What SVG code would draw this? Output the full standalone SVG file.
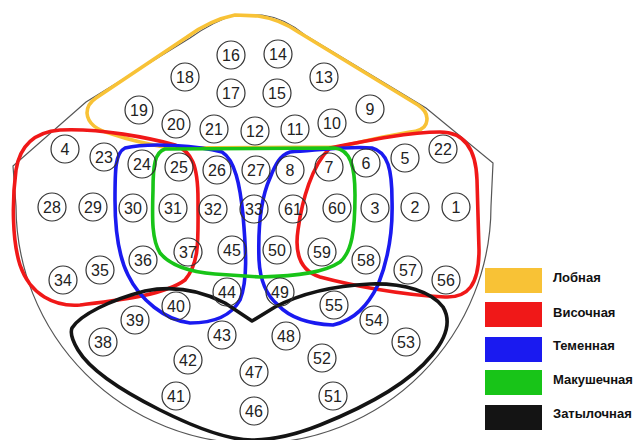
<svg xmlns="http://www.w3.org/2000/svg" width="636" height="440" viewBox="0 0 636 440">
  <style>
    .head { fill: none; stroke: #555; stroke-width: 1.2; }
    .zone { fill: none; stroke-width: 3.6; stroke-linejoin: round; }
    .frontal { stroke: #F8C236; }
    .temporal { stroke: #F01818; }
    .parietal { stroke: #1A1AF0; }
    .crown { stroke: #18C418; }
    .occipital { stroke: #141414; }
    .pt circle { fill: none; stroke: #333; stroke-width: 1.2; }
    .pt text { font-family: "Liberation Sans", Arial, sans-serif; font-size: 16px; fill: #222; text-anchor: middle; }
    .legend text { font-family: "Liberation Sans", Arial, sans-serif; font-size: 13px; font-weight: bold; fill: #111; }
  </style>

  <rect width="636" height="440" fill="#fff"/>

  <!-- head outline -->
  <path class="head" d="M 16,206 L 13,166 L 86,102 L 190,38 Q 214,21 235,15 L 262,15 Q 285,18 305,35 L 426,108 L 493,163 L 491,206 A 237.5,237.5 0 0 1 16,206 Z"/>

  <!-- zone boundaries -->
  <g id="zones">
    <path id="zone-frontal" class="zone frontal" d="M 112,134 Q 88,128 87,113 Q 87,104 96,98 L 187,37 Q 210,20 235,15 L 258,16 Q 280,19 300,33 L 418,105 Q 430,113 426,124 Q 423,131 410,132 L 383,137 L 338,147 L 170,148 Q 135,142 112,134 Z"/>
    <path id="zone-temporal-l" class="zone temporal" d="M 198,200 C 198,240 200,262 185,280 C 165,295 120,300 80,305 C 55,307 30,295 20,265 C 12,240 12,200 16,170 C 20,145 35,132 60,130 C 100,128 150,138 175,145 C 192,152 198,165 198,200 Z"/>
    <path id="zone-temporal-r" class="zone temporal" d="M 330,148 C 370,140 410,132 440,132 C 465,132 476,150 477,180 L 479,250 C 479,285 468,298 445,297 C 400,295 350,285 320,277 C 298,270 295,250 298,230 C 302,200 312,165 330,148 Z"/>
    <path id="zone-parietal-l" class="zone parietal" d="M 125,148 C 150,142 200,146 222,152 C 235,160 240,185 243,215 C 246,250 248,280 240,300 C 230,318 210,323 190,323 C 165,320 140,300 128,275 C 118,255 115,230 115,200 C 115,170 115,153 125,148 Z"/>
    <path id="zone-parietal-r" class="zone parietal" d="M 290,152 C 320,150 350,146 372,148 C 388,152 392,170 392,200 C 393,230 388,260 378,285 C 368,305 355,320 333,325 C 310,324 290,318 278,305 C 266,295 260,280 259,260 C 258,230 260,200 270,178 C 275,165 280,155 290,152 Z"/>
    <path id="zone-crown" class="zone crown" d="M 165,149 L 335,148 C 350,150 355,165 355,195 C 355,230 352,252 340,262 C 325,272 300,276 260,277 L 215,274 C 190,272 170,265 160,253 C 152,240 152,220 153,190 C 153,165 155,152 165,149 Z"/>
    <path id="zone-occipital" class="zone occipital" d="M 72,328 C 80,315 110,300 145,291 C 175,285 200,290 225,303 L 252,321 L 275,307 C 300,294 330,286 370,284 C 405,283 432,292 443,307 C 452,322 446,338 432,355 C 410,382 370,405 320,425 C 295,435 270,440 252,440 C 230,440 200,430 160,410 C 120,390 90,370 78,350 C 72,340 70,333 72,328 Z"/>
  </g>

  <!-- numbered points -->
  <g id="points">
    <g id="p16" class="pt"><circle cx="231" cy="55" r="14"/><text x="231" y="60.5">16</text></g>
    <g id="p14" class="pt"><circle cx="278" cy="54" r="14"/><text x="278" y="59.5">14</text></g>
    <g id="p18" class="pt"><circle cx="185" cy="77" r="14"/><text x="185" y="82.5">18</text></g>
    <g id="p17" class="pt"><circle cx="231" cy="93" r="14"/><text x="231" y="98.5">17</text></g>
    <g id="p15" class="pt"><circle cx="277" cy="93" r="14"/><text x="277" y="98.5">15</text></g>
    <g id="p13" class="pt"><circle cx="324" cy="77" r="14"/><text x="324" y="82.5">13</text></g>
    <g id="p19" class="pt"><circle cx="139" cy="110" r="14"/><text x="139" y="115.5">19</text></g>
    <g id="p20" class="pt"><circle cx="176" cy="124" r="14"/><text x="176" y="129.5">20</text></g>
    <g id="p21" class="pt"><circle cx="214" cy="129" r="14"/><text x="214" y="134.5">21</text></g>
    <g id="p12" class="pt"><circle cx="255" cy="131" r="14"/><text x="255" y="136.5">12</text></g>
    <g id="p11" class="pt"><circle cx="295" cy="129" r="14"/><text x="295" y="134.5">11</text></g>
    <g id="p10" class="pt"><circle cx="332" cy="123" r="14"/><text x="332" y="128.5">10</text></g>
    <g id="p9" class="pt"><circle cx="370" cy="109" r="14"/><text x="370" y="114.5">9</text></g>
    <g id="p4" class="pt"><circle cx="65" cy="149" r="14"/><text x="65" y="154.5">4</text></g>
    <g id="p23" class="pt"><circle cx="104" cy="157" r="14"/><text x="104" y="162.5">23</text></g>
    <g id="p24" class="pt"><circle cx="142" cy="164" r="14"/><text x="142" y="169.5">24</text></g>
    <g id="p25" class="pt"><circle cx="179" cy="167" r="14"/><text x="179" y="172.5">25</text></g>
    <g id="p26" class="pt"><circle cx="217" cy="170" r="14"/><text x="217" y="175.5">26</text></g>
    <g id="p27" class="pt"><circle cx="256" cy="170" r="14"/><text x="256" y="175.5">27</text></g>
    <g id="p8" class="pt"><circle cx="290" cy="170" r="14"/><text x="290" y="175.5">8</text></g>
    <g id="p7" class="pt"><circle cx="329" cy="167" r="14"/><text x="329" y="172.5">7</text></g>
    <g id="p6" class="pt"><circle cx="366" cy="163" r="14"/><text x="366" y="168.5">6</text></g>
    <g id="p5" class="pt"><circle cx="405" cy="158" r="14"/><text x="405" y="163.5">5</text></g>
    <g id="p22" class="pt"><circle cx="443" cy="149" r="14"/><text x="443" y="154.5">22</text></g>
    <g id="p28" class="pt"><circle cx="52" cy="207" r="14"/><text x="52" y="212.5">28</text></g>
    <g id="p29" class="pt"><circle cx="93" cy="207" r="14"/><text x="93" y="212.5">29</text></g>
    <g id="p30" class="pt"><circle cx="133" cy="208" r="14"/><text x="133" y="213.5">30</text></g>
    <g id="p31" class="pt"><circle cx="173" cy="208" r="14"/><text x="173" y="213.5">31</text></g>
    <g id="p32" class="pt"><circle cx="213" cy="209" r="14"/><text x="213" y="214.5">32</text></g>
    <g id="p33" class="pt"><circle cx="254" cy="209" r="14"/><text x="254" y="214.5">33</text></g>
    <g id="p61" class="pt"><circle cx="293" cy="209" r="14"/><text x="293" y="214.5">61</text></g>
    <g id="p60" class="pt"><circle cx="337" cy="208" r="14"/><text x="337" y="213.5">60</text></g>
    <g id="p3" class="pt"><circle cx="375" cy="208" r="14"/><text x="375" y="213.5">3</text></g>
    <g id="p2" class="pt"><circle cx="415" cy="207" r="14"/><text x="415" y="212.5">2</text></g>
    <g id="p1" class="pt"><circle cx="456" cy="207" r="14"/><text x="456" y="212.5">1</text></g>
    <g id="p34" class="pt"><circle cx="63" cy="280" r="14"/><text x="63" y="285.5">34</text></g>
    <g id="p35" class="pt"><circle cx="100" cy="270" r="14"/><text x="100" y="275.5">35</text></g>
    <g id="p36" class="pt"><circle cx="143" cy="260" r="14"/><text x="143" y="265.5">36</text></g>
    <g id="p37" class="pt"><circle cx="188" cy="252" r="14"/><text x="188" y="257.5">37</text></g>
    <g id="p45" class="pt"><circle cx="232" cy="250" r="14"/><text x="232" y="255.5">45</text></g>
    <g id="p50" class="pt"><circle cx="277" cy="250" r="14"/><text x="277" y="255.5">50</text></g>
    <g id="p59" class="pt"><circle cx="322" cy="252" r="14"/><text x="322" y="257.5">59</text></g>
    <g id="p58" class="pt"><circle cx="366" cy="260" r="14"/><text x="366" y="265.5">58</text></g>
    <g id="p57" class="pt"><circle cx="408" cy="270" r="14"/><text x="408" y="275.5">57</text></g>
    <g id="p56" class="pt"><circle cx="446" cy="280" r="14"/><text x="446" y="285.5">56</text></g>
    <g id="p44" class="pt"><circle cx="227" cy="292" r="14"/><text x="227" y="297.5">44</text></g>
    <g id="p49" class="pt"><circle cx="280" cy="292" r="14"/><text x="280" y="297.5">49</text></g>
    <g id="p40" class="pt"><circle cx="176" cy="306" r="14"/><text x="176" y="311.5">40</text></g>
    <g id="p55" class="pt"><circle cx="334" cy="305" r="14"/><text x="334" y="310.5">55</text></g>
    <g id="p39" class="pt"><circle cx="135" cy="320" r="14"/><text x="135" y="325.5">39</text></g>
    <g id="p54" class="pt"><circle cx="374" cy="320" r="14"/><text x="374" y="325.5">54</text></g>
    <g id="p38" class="pt"><circle cx="103" cy="342" r="14"/><text x="103" y="347.5">38</text></g>
    <g id="p43" class="pt"><circle cx="222" cy="335" r="14"/><text x="222" y="340.5">43</text></g>
    <g id="p48" class="pt"><circle cx="286" cy="336" r="14"/><text x="286" y="341.5">48</text></g>
    <g id="p53" class="pt"><circle cx="406" cy="342" r="14"/><text x="406" y="347.5">53</text></g>
    <g id="p42" class="pt"><circle cx="188" cy="360" r="14"/><text x="188" y="365.5">42</text></g>
    <g id="p52" class="pt"><circle cx="322" cy="358" r="14"/><text x="322" y="363.5">52</text></g>
    <g id="p47" class="pt"><circle cx="254" cy="372" r="14"/><text x="254" y="377.5">47</text></g>
    <g id="p41" class="pt"><circle cx="176" cy="396" r="14"/><text x="176" y="401.5">41</text></g>
    <g id="p51" class="pt"><circle cx="333" cy="396" r="14"/><text x="333" y="401.5">51</text></g>
    <g id="p46" class="pt"><circle cx="254" cy="411" r="14"/><text x="254" y="416.5">46</text></g>
  </g>

  <!-- legend -->
  <g id="legend" class="legend">
    <rect x="485" y="268" width="57" height="25" fill="#F8C236"/>
    <text x="553" y="282">Лобная</text>
    <rect x="485" y="302" width="57" height="25" fill="#F01818"/>
    <text x="553" y="317">Височная</text>
    <rect x="485" y="337" width="57" height="25" fill="#1A1AF0"/>
    <text x="553" y="350">Теменная</text>
    <rect x="485" y="370" width="57" height="25" fill="#18C418"/>
    <text x="553" y="384">Макушечная</text>
    <rect x="485" y="405" width="57" height="25" fill="#141414"/>
    <text x="553" y="418">Затылочная</text>
  </g>
</svg>
